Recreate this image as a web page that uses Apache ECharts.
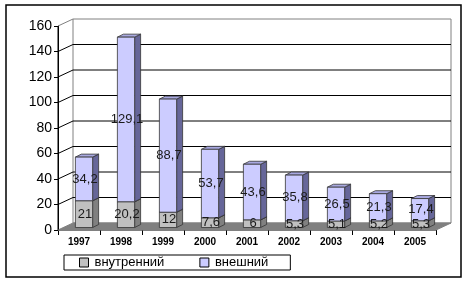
<!DOCTYPE html>
<html>
<head>
<meta charset="utf-8">
<script src="https://cdn.jsdelivr.net/npm/echarts@6/dist/echarts.min.js"></script>
<style>html,body{margin:0;padding:0;background:#fff}#c{width:469px;height:284px}</style>
</head>
<body>
<div id="c"></div>
<script>
const categories = ['1997','1998','1999','2000','2001','2002','2003','2004','2005'];
const innerVals = [21, 20.2, 12, 7.6, 6, 5.3, 5.1, 5.2, 5.3];
const outerVals = [34.2, 129.1, 88.7, 53.7, 43.6, 35.8, 26.5, 21.3, 17.4];
const yTicks = [0, 20, 40, 60, 80, 100, 120, 140, 160];
const seriesNames = ['внутренний', 'внешний'];

const FONT = "'Liberation Sans', Arial, sans-serif";
const WDX = 15, WDY = -7;      // wall depth
const BOX = 5, BOY = -2.5;     // bar front offset
const BDX = 6, BDY = -3;       // bar depth
const BAR_FRAC = 0.41;

const fmt = v => String(v).replace('.', ',');

function bgRender(params, api) {
  const cs = params.coordSys;
  const L = cs.x, R = cs.x + cs.width, T = cs.y, B = cs.y + cs.height;
  const ch = [];
  ch.push({type:'polygon', shape:{points:[[L+WDX,T+WDY],[R+WDX,T+WDY],[R+WDX,B+WDY],[L+WDX,B+WDY]]},
    style:{fill:'#fff', stroke:'#808080', lineWidth:1}});
  ch.push({type:'polygon', shape:{points:[[L,B],[R,B],[R+WDX,B+WDY],[L+WDX,B+WDY]]},
    style:{fill:'#808080', stroke:'#808080', lineWidth:1}});
  yTicks.forEach(v => {
    const y = api.coord([0, v])[1];
    const col = (v === yTicks[yTicks.length-1]) ? '#808080' : '#000';
    if (v > 0) {
      ch.push({type:'line', shape:{x1:L, y1:y, x2:L+WDX, y2:y+WDY}, style:{stroke:col, lineWidth:1}});
    }
    if (v > 0 && v < yTicks[yTicks.length-1]) {
      ch.push({type:'line', shape:{x1:L+WDX, y1:y+WDY, x2:R+WDX, y2:y+WDY}, style:{stroke:'#000', lineWidth:1}});
    }
  });
  ch.push({type:'line', shape:{x1:L, y1:T, x2:L, y2:B}, style:{stroke:'#000', lineWidth:1}});
  return {type:'group', children: ch};
}

function makeBarRender(colors) {
  return function(params, api) {
    const i = api.value(0);
    const base = api.value(1), top = api.value(2), val = api.value(3);
    const c0 = api.coord([i, base]);
    const c1 = api.coord([i, top]);
    const w = api.size([1, 0])[0] * BAR_FRAC;
    const x0 = c0[0] - w/2 + BOX, x1 = x0 + w;
    const yb = c0[1] + BOY, yt = c1[1] + BOY;
    const stroke = '#333';
    return {type:'group', children:[
      {type:'polygon', shape:{points:[[x1,yb],[x1+BDX,yb+BDY],[x1+BDX,yt+BDY],[x1,yt]]},
        style:{fill:colors.side, stroke:stroke, lineWidth:0.8}},
      {type:'polygon', shape:{points:[[x0,yt],[x1,yt],[x1+BDX,yt+BDY],[x0+BDX,yt+BDY]]},
        style:{fill:colors.top, stroke:stroke, lineWidth:0.8}},
      {type:'rect', shape:{x:x0, y:yt, width:w, height:yb-yt},
        style:{fill:colors.front, stroke:stroke, lineWidth:0.8}},
      {type:'text', x:(x0+x1)/2 + 1, y:(yt+yb)/2, z2:10,
        style:{text:fmt(val), fill:'#1a1a1a', font:'13px ' + FONT, align:'center', verticalAlign:'middle'}}
    ]};
  };
}

const innerData = categories.map((c, i) => [i, 0, innerVals[i], innerVals[i]]);
const outerData = categories.map((c, i) => [i, innerVals[i], innerVals[i] + outerVals[i], outerVals[i]]);

const chart = echarts.init(document.getElementById('c'));
chart.setOption({
  animation: false,
  backgroundColor: '#fff',
  graphic: [{type:'rect', shape:{x:6, y:5, width:455, height:272}, style:{fill:'none', stroke:'#000', lineWidth:1.5}, z:-1}],
  grid: {left: 58, right: 33, top: 26, bottom: 54},
  xAxis: {
    type: 'category', data: categories,
    axisLine: {show: true, lineStyle: {color: '#808080'}},
    axisTick: {show: true, length: 5, lineStyle: {color: '#000'}},
    axisLabel: {fontFamily: FONT, fontSize: 10, fontWeight: 'bold', color: '#000', margin: 7}
  },
  yAxis: {
    type: 'value', min: 0, max: 160, interval: 20,
    axisLine: {show: true, lineStyle: {color: '#000'}},
    axisTick: {show: true, length: 4, lineStyle: {color: '#000'}},
    splitLine: {show: false},
    axisLabel: {fontFamily: FONT, fontSize: 14, color: '#000', margin: 6}
  },
  legend: {
    left: 64, top: 255,
    data: seriesNames,
    icon: 'rect', itemGap: 35,
    itemWidth: 9, itemHeight: 9,
    padding: [1, 22, 1, 15],
    borderColor: '#000', borderWidth: 1,
    textStyle: {fontFamily: FONT, fontSize: 13, color: '#000', padding: [0, 0, 0, 1]},
    itemStyle: {borderColor: '#000', borderWidth: 1}
  },
  series: [
    {type:'custom', name:'bg', data:[[0]], renderItem: bgRender, z:1, silent:true},
    {type:'custom', name: seriesNames[0], data: innerData, z:2,
      itemStyle:{color:'#C0C0C0'},
      renderItem: makeBarRender({front:'#C0C0C0', side:'#808080', top:'#A0A0A0'})},
    {type:'custom', name: seriesNames[1], data: outerData, z:2,
      itemStyle:{color:'#CCCCFF'},
      renderItem: makeBarRender({front:'#CCCCFF', side:'#666699', top:'#A8A8E0'})}
  ]
});
</script>
</body>
</html>
